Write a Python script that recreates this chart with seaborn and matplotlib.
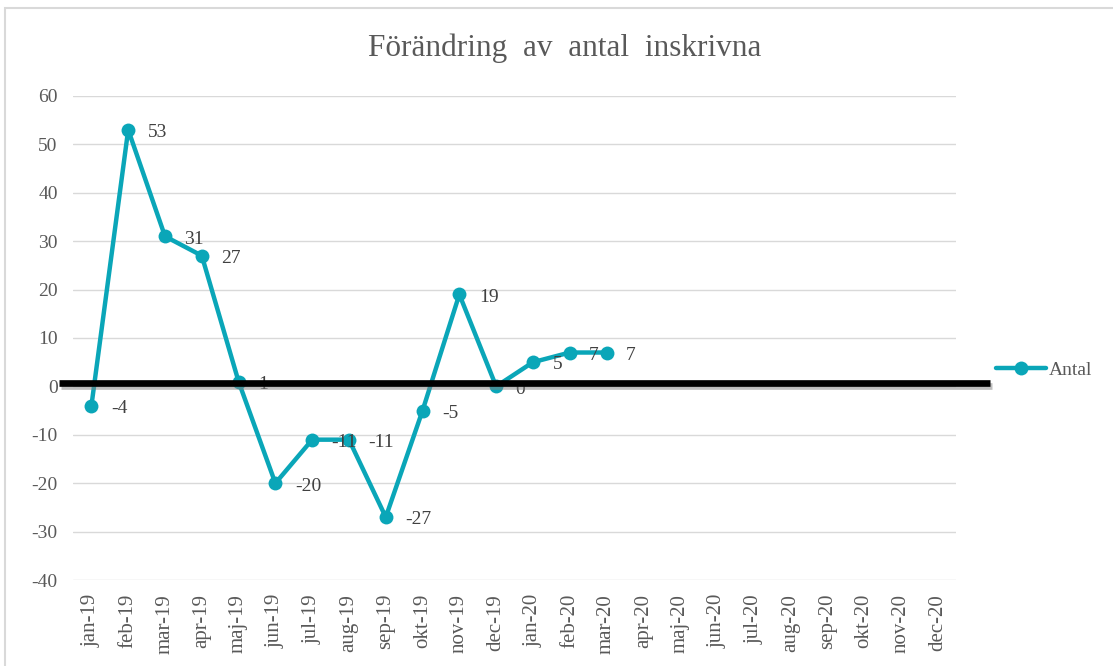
import numpy as np
import pandas as pd
import matplotlib
matplotlib.use("Agg")
import matplotlib.pyplot as plt
import matplotlib.patheffects as pe
from matplotlib.lines import Line2D
from matplotlib.patches import Rectangle
import seaborn as sns

months = ["jan-19", "feb-19", "mar-19", "apr-19", "maj-19", "jun-19", "jul-19", "aug-19",
          "sep-19", "okt-19", "nov-19", "dec-19", "jan-20", "feb-20", "mar-20", "apr-20",
          "maj-20", "jun-20", "jul-20", "aug-20", "sep-20", "okt-20", "nov-20", "dec-20"]
antal = [-4, 53, 31, 27, 1, -20, -11, -11, -27, -5, 19, 0, 5, 7, 7]
yticks = [-40, -30, -20, -10, 0, 10, 20, 30, 40, 50, 60]

sns.set_theme(style="white")
plt.rcParams["font.family"] = ["Liberation Serif", "DejaVu Serif"]

color = "#0AA6B8"
txt = "#595959"

fig = plt.figure(figsize=(11.13, 6.66), dpi=100)
ax = fig.add_axes([0.0656, 0.129, 0.7934, 0.727])

df = pd.DataFrame({"pos": np.arange(len(antal)), "Antal": antal})
sns.lineplot(data=df, x="pos", y="Antal", ax=ax, color=color, linewidth=3.2,
             marker="o", markersize=10, markeredgewidth=0, label="Antal")

for x, v in zip(df["pos"], df["Antal"]):
    ax.annotate(str(v), (x, v), xytext=(14, -2), textcoords="offset points",
                ha="left", va="center", fontsize=14, color="#404040")

ax.set_xlim(-0.5, len(months) - 0.5)
ax.set_ylim(-40, 60)
ax.set_xticks(np.arange(len(months)))
ax.set_xticklabels(months, rotation=90, fontsize=15, color=txt)
ax.set_yticks(yticks)
ax.set_yticklabels([str(t) for t in yticks], fontsize=14, color=txt)
ax.tick_params(axis="y", length=0, pad=11)
ax.tick_params(axis="x", length=0, pad=10)
ax.set_xlabel("")
ax.set_ylabel("")
ax.grid(axis="y", color="#D9D9D9", linewidth=1)
ax.set_axisbelow(True)
for s in ax.spines.values():
    s.set_visible(False)

# thick black line drawn over the chart (slightly above zero)
y0 = ax.transData.transform((0, 0.7))[1] / fig.bbox.height
blk = Line2D([59 / 1113, 990 / 1113], [y0, y0], transform=fig.transFigure,
             color="black", linewidth=4.8, solid_capstyle="butt", zorder=10,
             path_effects=[pe.SimpleLineShadow(offset=(1.5, -2), shadow_color="gray", alpha=0.5),
                           pe.Normal()])
fig.add_artist(blk)

leg = ax.legend(loc="center left", bbox_to_anchor=(0.886, 0.444),
                bbox_transform=fig.transFigure, frameon=False, fontsize=14,
                handlelength=2.6, handletextpad=0.15, borderpad=0)
for t in leg.get_texts():
    t.set_color(txt)

fig.text(0.507, 0.928, "Förändring  av  antal  inskrivna", ha="center", va="center",
         fontsize=22.5, color=txt)

fig.add_artist(Rectangle((5 / 1113, -0.01), 1.05, 1 - 8 / 666 + 0.01, transform=fig.transFigure,
                         fill=False, edgecolor="#D9D9D9", linewidth=1.5))

fig.savefig("out.png", dpi=100)
